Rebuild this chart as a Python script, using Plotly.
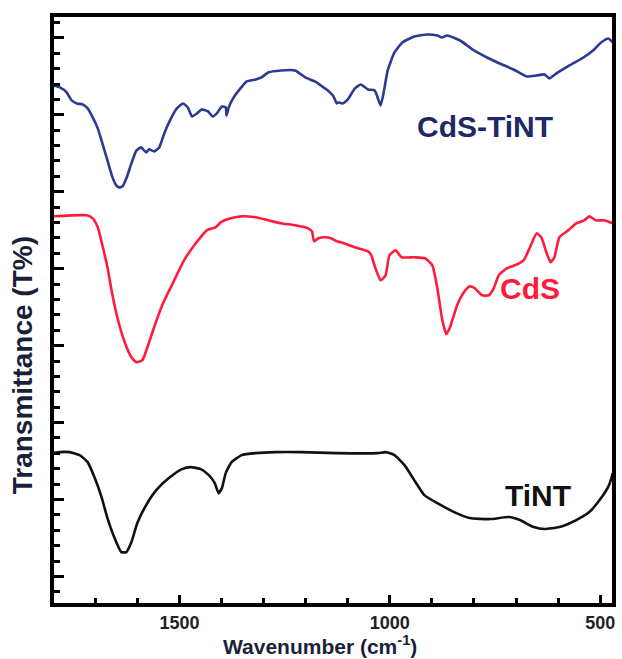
import plotly.graph_objects as go

# FTIR spectra, wavenumber (cm^-1) vs. transmittance (arbitrary offset units)
cds_tint_wn = [1801, 1784, 1768, 1756, 1744, 1730, 1718, 1706, 1694, 1683, 1671, 1659, 1650, 1643,
               1635, 1626, 1614, 1602, 1591, 1579, 1572, 1560, 1548, 1536, 1520, 1506, 1491, 1480,
               1470, 1458, 1447, 1432, 1421, 1411, 1399, 1390, 1388, 1383, 1371, 1355, 1340, 1319,
               1305, 1289, 1258, 1225, 1201, 1178, 1154, 1147, 1140, 1135, 1126, 1123, 1112, 1100,
               1083, 1069, 1052, 1036, 1029, 1022, 1015, 1005, 989, 970, 942, 911, 887, 876, 864,
               833, 800, 769, 739, 706, 675, 651, 632, 621, 604, 573, 540, 517, 498, 481, 470]
cds_tint_t = [520, 518, 513, 505, 502, 501, 497, 488, 477, 462, 445, 428, 420, 418,
              419, 427, 442, 455, 458, 453, 456, 454, 458, 472, 487, 497, 502, 498,
              489, 492, 496, 494, 489, 492, 499, 498, 490, 498, 508, 517, 524, 526,
              528, 533, 535, 535, 528, 524, 517, 515, 512, 510, 502, 503, 502, 506,
              517, 521, 516, 515, 508, 500, 512, 535, 553, 563, 569, 571, 570, 568, 570,
              565, 555, 548, 542, 536, 529, 530, 531, 527, 532, 540, 548, 555, 563, 567, 563]

cds_wn = [1801, 1720, 1706, 1694, 1683, 1671, 1659, 1647, 1630, 1614, 1602, 1588, 1576, 1560,
          1541, 1518, 1489, 1461, 1435, 1414, 1402, 1378, 1352, 1319, 1289, 1258, 1225, 1194,
          1185, 1180, 1170, 1154, 1140, 1126, 1116, 1083, 1052, 1045, 1034, 1022, 1010, 1001,
          986, 972, 942, 916, 899, 887, 876, 866, 857, 840, 824, 810, 798, 781, 765, 753,
          741, 722, 703, 682, 668, 651, 640, 628, 618, 609, 597, 576, 557, 538, 526, 510,
          491, 470]
cds_t = [389, 390, 387, 378, 360, 338, 310, 287, 263, 248, 243, 245, 258, 278,
         300, 320, 345, 362, 375, 378, 383, 387, 389, 388, 385, 382, 380, 377,
         374, 364, 367, 368, 367, 364, 363, 358, 354, 351, 337, 325, 330, 350,
         355, 348, 348, 347, 340, 317, 287, 271, 278, 300, 313, 319, 317, 310, 310, 317,
         330, 337, 340, 345, 357, 372, 368, 353, 343, 348, 368, 375, 382, 385, 389, 385,
         385, 382]

tint_wn = [1801, 1784, 1761, 1737, 1718, 1702, 1685, 1671, 1654, 1638, 1626, 1614, 1600, 1579,
           1555, 1525, 1494, 1473, 1449, 1430, 1416, 1407, 1399, 1390, 1376, 1352, 1319, 1272,
           1211, 1126, 1029, 1010, 989, 965, 942, 918, 887, 847, 810, 762, 717, 691, 658,
           632, 597, 557, 526, 498, 479, 470]
tint_t = [152, 153, 153, 150, 143, 128, 108, 87, 67, 53, 53, 63, 82, 100,
          115, 127, 136, 138, 136, 130, 122, 112, 117, 132, 143, 150, 152, 153,
          153, 152, 152, 153, 150, 140, 125, 110, 102, 93, 87, 86, 88, 85, 78,
          76, 78, 85, 93, 107, 120, 132]

series_names = ["CdS-TiNT", "CdS", "TiNT"]
series_colors = ["#2b3a92", "#ff1c3a", "#111111"]
label_colors = ["#1f2866", "#ff1c3a", "#111111"]
label_pos_wn = [774, 668, 647]
label_pos_t = [479, 317, 110]

x_tick_vals = [1500, 1000, 500]
x_tick_text = ["1500", "1000", "500"]

FONT = "Liberation Sans, Arial, sans-serif"

fig = go.Figure()
for wn, t, name, col in zip([cds_tint_wn, cds_wn, tint_wn], [cds_tint_t, cds_t, tint_t],
                            series_names, series_colors):
    fig.add_trace(go.Scatter(x=wn, y=t, mode="lines", name=name,
                             line=dict(color=col, width=2.6, shape="spline", smoothing=0.5)))

for name, col, xw, yt in zip(series_names, label_colors, label_pos_wn, label_pos_t):
    fig.add_annotation(x=xw, y=yt, xref="x", yref="y", text=name, showarrow=False,
                       font=dict(family=FONT, size=30, color=col, weight="bold"),
                       xanchor="center", yanchor="middle")

# Axis titles
fig.add_annotation(x=-0.057, y=0.406, xref="paper", yref="paper", text="Transmittance (T%)",
                   textangle=-90, showarrow=False, xanchor="center", yanchor="middle",
                   font=dict(family=FONT, size=28, color="#1a1f3a", weight="bold"))
fig.add_annotation(x=0.477, y=-0.071, xref="paper", yref="paper",
                   text="Wavenumber (cm<sup>-1</sup>)", showarrow=False,
                   xanchor="center", yanchor="middle",
                   font=dict(family=FONT, size=21, color="#1a1f3a", weight="bold"))

fig.update_xaxes(range=[1798, 472], showgrid=False, zeroline=False,
                 showline=True, linewidth=4, linecolor="black", mirror=True,
                 ticks="inside", ticklen=8, tickwidth=2.5, tickcolor="black",
                 tickvals=x_tick_vals, ticktext=x_tick_text,
                 tickfont=dict(family=FONT, size=18, color="#222222", weight="bold"),
                 minor=dict(ticks="inside", ticklen=5, tickwidth=2.5, tickcolor="black",
                            tick0=500, dtick=100))
fig.update_yaxes(range=[2, 588.5], showgrid=False, zeroline=False,
                 showline=True, linewidth=4, linecolor="black", mirror=True,
                 ticks="inside", ticklen=10, tickwidth=2.5, tickcolor="black",
                 tick0=28.6, dtick=77, showticklabels=False,
                 minor=dict(ticks="inside", ticklen=6, tickwidth=2.5, tickcolor="black",
                            tick0=13.2, dtick=15.4))

fig.update_layout(width=622, height=659, showlegend=False,
                  margin=dict(l=54, r=6, t=17, b=56),
                  paper_bgcolor="white", plot_bgcolor="white")

fig.write_html("out.html")
